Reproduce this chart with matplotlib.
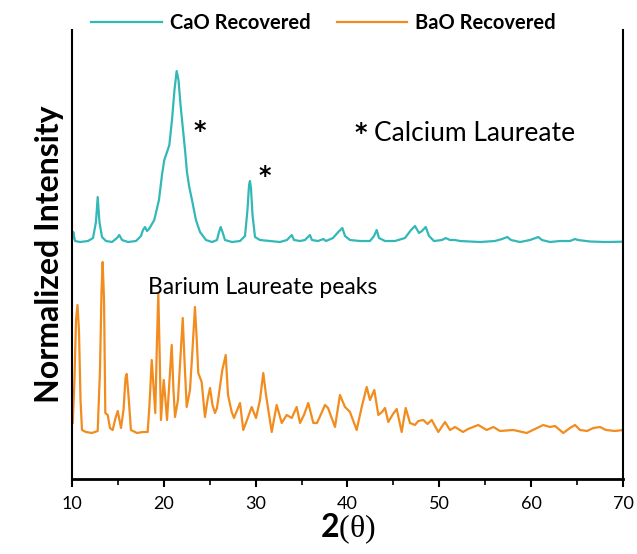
import numpy as np
import matplotlib
matplotlib.use("Agg")
import matplotlib.pyplot as plt
from matplotlib.ticker import MultipleLocator

plt.rcParams['font.family'] = ['Lato', 'DejaVu Sans']
plt.rcParams['mathtext.fontset'] = 'custom'
plt.rcParams['mathtext.bf'] = 'Lato:bold'
plt.rcParams['mathtext.rm'] = 'Liberation Serif'

# CaO recovered trace (2theta, intensity a.u.)
cao_2theta = [10.05, 10.14, 10.33, 10.87, 11.74, 12.29, 12.61, 12.80, 12.99, 13.27, 13.70, 14.36,
              14.90, 15.15, 15.45, 16.10, 16.97, 17.51, 17.73, 17.95, 18.17, 18.39, 18.96, 19.47,
              19.80, 20.05, 20.35, 20.60, 20.89, 21.16, 21.40, 21.60, 21.82, 22.06, 22.31, 22.52,
              22.77, 23.07, 23.50, 23.94, 24.59, 25.25, 25.79, 26.01, 26.19, 26.39, 26.66, 27.42,
              28.30, 28.84, 29.11, 29.28, 29.38, 29.49, 29.66, 29.93, 30.47, 31.56, 32.65, 33.41,
              33.93, 34.18, 34.83, 35.37, 35.91, 36.13, 36.79, 37.37, 37.66, 38.42, 39.00, 39.44,
              39.73, 40.27, 41.36, 42.45, 42.89, 43.18, 43.43, 44.09, 45.17, 46.26, 46.92, 47.35,
              47.79, 48.11, 48.52, 48.88, 49.42, 50.29, 50.70, 51.16, 51.71, 52.25, 54.43, 56.06,
              56.83, 57.40, 57.81, 58.79, 59.88, 60.78, 61.18, 62.05, 63.14, 64.23, 64.78, 65.10,
              66.41, 68.04, 70.00]
cao_int = [241, 247, 238, 237, 238, 241, 257, 282, 257, 242, 238, 237,
           241, 244, 239, 237, 238, 243, 249, 252, 248, 250, 259, 279,
           304, 319, 327, 334, 359, 389, 408, 399, 374, 352, 329, 307,
           292, 279, 259, 247, 239, 237, 239, 247, 252, 247, 239, 237,
           238, 243, 269, 294, 298, 291, 264, 242, 239, 238, 237, 239,
           244, 239, 238, 239, 244, 239, 238, 240, 238, 241, 247, 251,
           243, 239, 238, 238, 243, 249, 241, 238, 238, 241, 249, 253,
           246, 248, 252, 243, 238, 239, 241, 239, 239, 238, 237, 238,
           240, 242, 239, 237, 239, 242, 239, 237, 238, 238, 240, 239,
           237.5, 237, 237.3]

# BaO recovered trace
bao_2theta = [10.08, 10.27, 10.44, 10.60, 10.76, 10.93, 11.09, 11.52, 12.18, 12.80, 13.05, 13.22,
              13.34, 13.49, 13.63, 13.89, 14.14, 14.43, 14.74, 14.98, 15.17, 15.34, 15.61, 15.83,
              15.96, 16.15, 16.42, 17.08, 17.73, 18.24, 18.44, 18.68, 18.87, 19.07, 19.23, 19.40,
              19.56, 19.69, 19.99, 20.18, 20.35, 20.62, 20.86, 21.05, 21.22, 21.54, 21.82, 22.06,
              22.25, 22.49, 22.85, 23.12, 23.39, 23.59, 23.75, 24.12, 24.48, 24.76, 25.03, 25.30,
              25.57, 25.79, 26.37, 26.74, 26.99, 27.39, 27.64, 28.30, 28.65, 29.06, 29.57, 30.04,
              30.47, 30.83, 31.13, 31.38, 31.75, 32.29, 32.84, 33.38, 33.93, 34.47, 34.83, 35.26,
              35.73, 36.28, 36.68, 37.22, 37.55, 37.88, 38.64, 39.18, 39.73, 40.27, 41.00, 41.55,
              42.09, 42.45, 42.92, 43.36, 43.76, 44.09, 44.44, 44.96, 45.36, 45.90, 46.34, 46.81,
              47.35, 47.71, 48.26, 48.71, 49.17, 49.89, 50.62, 51.16, 51.71, 52.58, 53.12, 54.24,
              55.16, 55.88, 56.61, 58.06, 59.52, 60.42, 61.32, 62.05, 62.60, 63.50, 64.23, 64.78,
              65.32, 66.09, 66.77, 67.50, 68.15, 69.13, 70.00]
bao_int = [56, 99, 159, 174, 149, 79, 49, 47, 46, 48, 109, 189,
           217, 179, 66, 64, 51, 49, 61, 68, 59, 51, 69, 101,
           105, 84, 49, 46, 47, 47, 74, 119, 94, 66, 129, 186,
           119, 59, 99, 79, 59, 99, 134, 89, 62, 79, 124, 161,
           119, 72, 89, 129, 172, 139, 106, 97, 62, 79, 91, 74,
           66, 71, 109, 124, 84, 67, 61, 76, 49, 59, 72, 61,
           79, 106, 84, 69, 47, 74, 56, 64, 61, 72, 56, 64,
           76, 56, 56, 67, 74, 71, 52, 84, 72, 67, 49, 72,
           92, 79, 89, 64, 67, 71, 57, 65, 70, 47, 71, 56,
           54, 58, 59, 55, 59, 47, 57, 49, 52, 47, 50, 54,
           49, 52, 48, 49, 46, 50, 54, 52, 53, 46, 51, 54,
           49, 48, 51, 52, 49, 48, 49]

labels = ['CaO Recovered', 'BaO Recovered']
colors = ['#33B8B8', '#F28C1E']

fig = plt.figure(figsize=(6.37, 5.54), dpi=100)
ax = fig.add_axes([0.113, 0.1354, 0.865, 0.8104])

ax.plot(cao_2theta, cao_int, color=colors[0], lw=1.6, label=labels[0])
ax.plot(bao_2theta, bao_int, color=colors[1], lw=1.6, label=labels[1])

ax.set_xlim(10, 70)
ax.set_ylim(0, 449)
ax.xaxis.set_major_locator(MultipleLocator(10))
ax.xaxis.set_minor_locator(MultipleLocator(5))
ax.set_yticks([])
ax.spines['top'].set_visible(False)
ax.spines['bottom'].set_linewidth(2)
ax.spines['left'].set_linewidth(1.5)
ax.spines['right'].set_linewidth(1.5)
ax.tick_params(axis='x', which='major', direction='out', length=6, width=1.5, labelsize=13, pad=6)
ax.tick_params(axis='x', which='minor', direction='out', length=4, width=1.2)

ax.set_xlabel(r'$\mathbf{2}\mathrm{(\theta)}$', fontsize=23, labelpad=0)
ax.set_ylabel('Normalized Intensity', fontsize=23, fontweight='bold', labelpad=6)

star = dict(fontsize=17, ha='center', va='center', family='DejaVu Sans', fontweight='bold')
ax.text(23.94, 348, '*', **star)
ax.text(31.02, 303, '*', **star)
ax.text(41.4, 346, '*', **star)
ax.text(42.9, 346, 'Calcium Laureate', fontsize=19, ha='left', va='center')
ax.text(18.28, 192, 'Barium Laureate peaks', fontsize=16.5, ha='left', va='center')

fig.legend(loc='center', bbox_to_anchor=(0.508, 0.958), ncol=2, frameon=False,
           prop={'weight': 'bold', 'size': 14.5}, handlelength=3.5, columnspacing=1.3,
           handletextpad=0.4)

fig.savefig('out.png', dpi=100)
